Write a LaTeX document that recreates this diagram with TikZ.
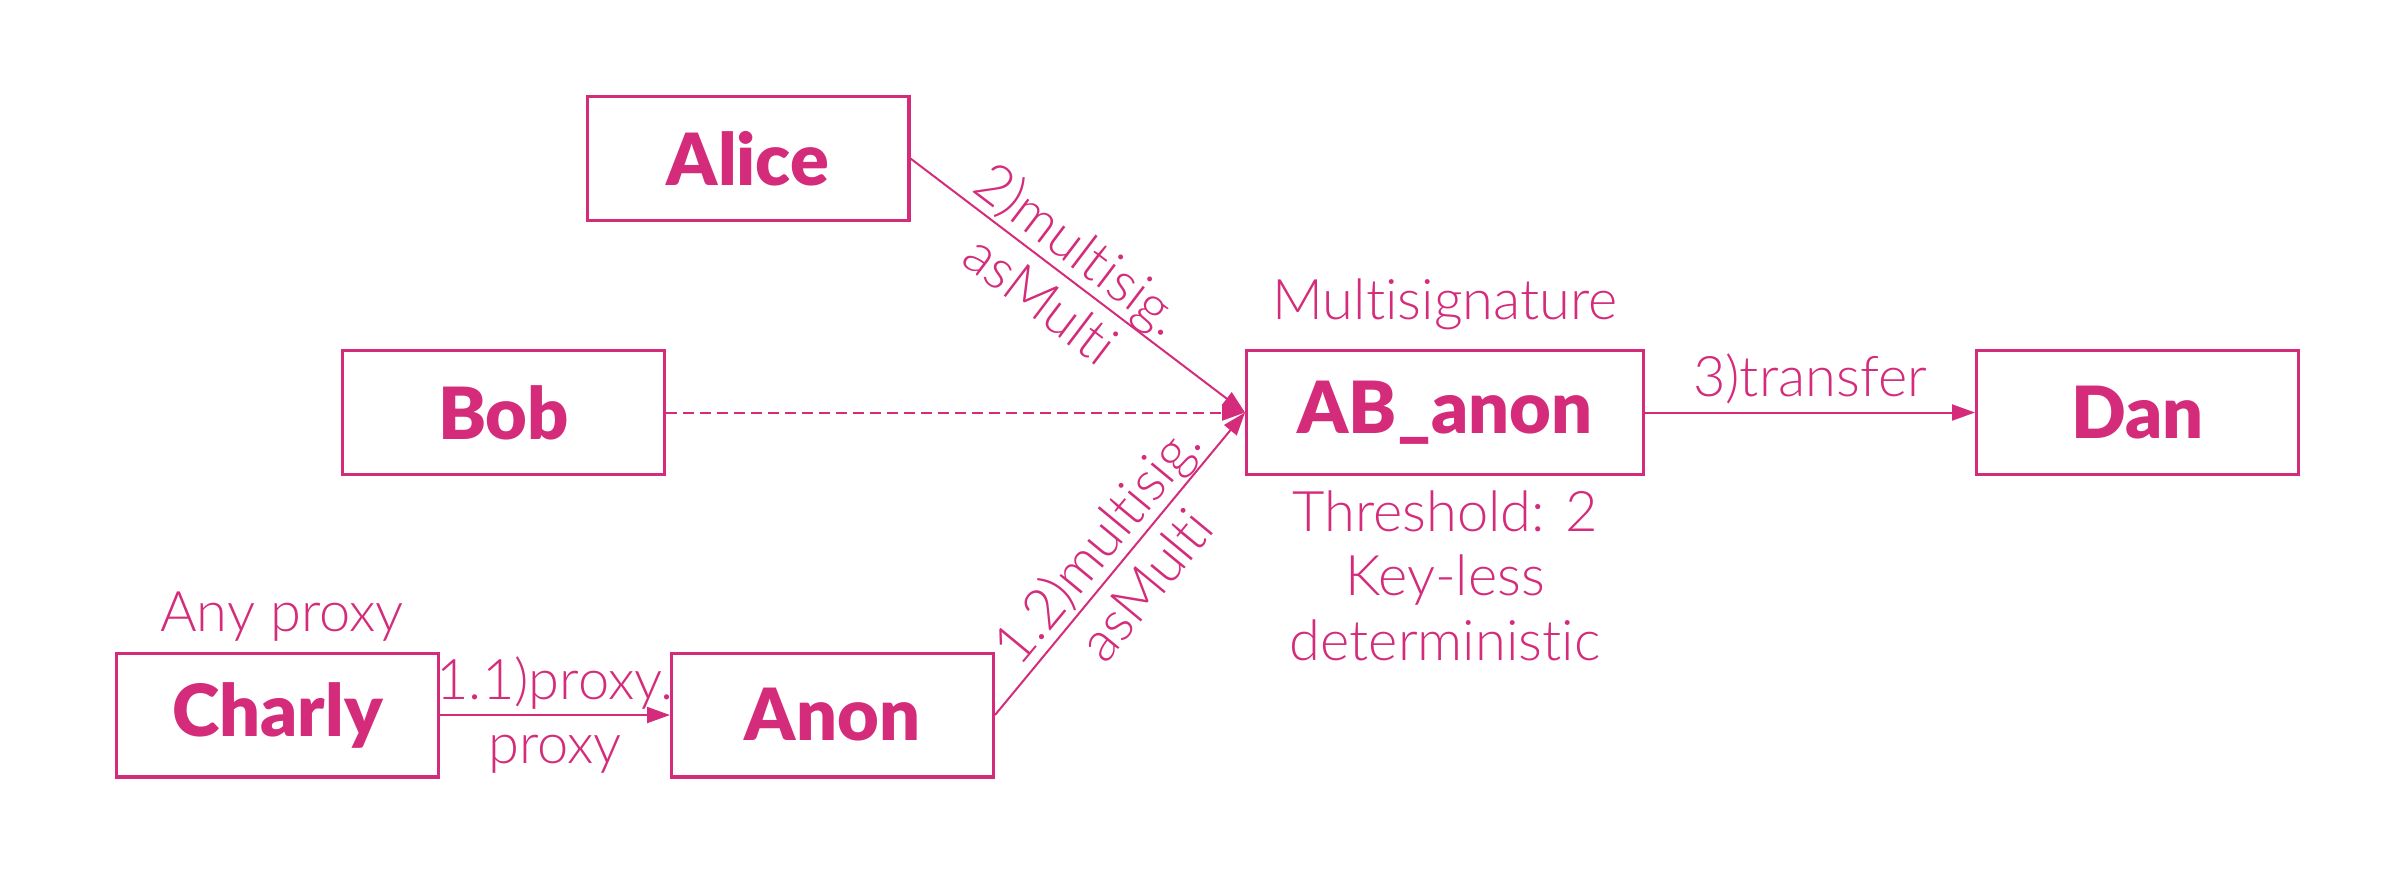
\documentclass[tikz,border=0pt]{standalone}
\usepackage{fontspec}
\setmainfont{Lato}
\newfontfamily\heavyf{Lato Black}[RawFeature={-liga;-dlig;-clig}]
\newfontfamily\lightf{Lato Light}[RawFeature={-liga;-dlig;-clig}]
\usetikzlibrary{arrows.meta}
\definecolor{pk}{RGB}{212,44,122}
\tikzset{
  box/.style={draw=pk, line width=1.7pt, minimum width=160.8pt, minimum height=61.8pt, inner sep=0pt, text=pk, font=\heavyf\fontsize{36}{42}\selectfont},
  conn/.style={draw=pk, line width=1pt, -{Triangle[length=11.5pt,width=8pt]}},
  lbl/.style={text=pk, font=\lightf\fontsize{28}{32}\selectfont, align=center, inner sep=1pt},
}
\begin{document}
\begin{tikzpicture}[x=0.5pt,y=-0.5pt]
\useasboundingbox (0,0) rectangle (2408,880);
\node[box] (alice) at (748,158.5) {Alice};
\node[box] (bob) at (503.5,412.5) {Bob};
\node[box] (charly) at (277.5,715) {Charly};
\node[box] (anon) at (832.5,715) {Anon};
\node[box, minimum width=198.3pt] (ab) at (1445,412.5) {AB\_anon};
\node[box] (dan) at (2137.5,412.5) {Dan};
\node[lbl, anchor=base] (ms) at (1445,319) {Multisignature};
\node[lbl, anchor=north, font=\lightf\fontsize{28}{32.3}\selectfont] (th) at (1445,488) {Threshold: 2\\Key-less\\deterministic};
\node[lbl, anchor=base] (ap) at (282,631) {Any proxy};
\draw[conn] (alice.east) -- node[lbl, sloped, pos=0.45] {2)multisig.\\asMulti} (ab.west);
\draw[conn, dashed, dash pattern=on 5.5pt off 3pt] (bob.east) -- (ab.west);
\draw[conn] (anon.east) -- node[lbl, sloped, pos=0.5] {1.2)multisig.\\asMulti} (ab.west);
\draw[conn] (charly.east) -- node[lbl] {1.1)proxy.\\proxy} (anon.west);
\draw[conn] (ab.east) -- node[lbl, above, inner sep=4pt] {3)transfer} (dan.west);
\end{tikzpicture}
\end{document}
